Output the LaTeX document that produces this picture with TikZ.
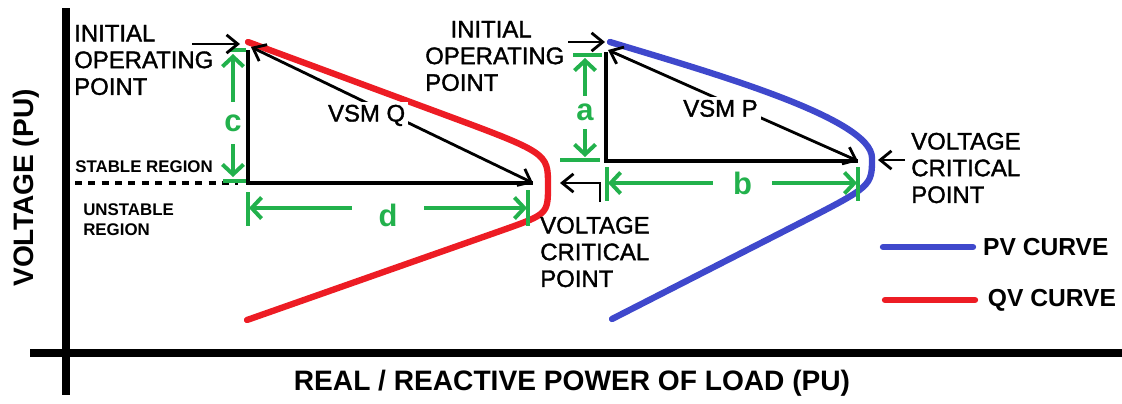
\documentclass[tikz,border=0pt]{standalone}
\usepackage{fontspec}
\setmainfont{Liberation Sans}
\newfontfamily\heavyfont{Liberation Sans}[FakeBold=1.5]
\usetikzlibrary{arrows.meta, positioning}
\definecolor{pvblue}{RGB}{63,72,204}
\definecolor{qvred}{RGB}{237,28,36}
\definecolor{dimgreen}{RGB}{34,177,76}

\begin{document}
\begin{tikzpicture}[
  x=0.025cm, y=-0.025cm,
  axisline/.style={line width=5pt},
  qvcurve/.style={draw=qvred, line width=4.5pt, line cap=round, line join=round},
  pvcurve/.style={draw=pvblue, line width=4.5pt, line cap=round, line join=round},
  side/.style={line width=2.2pt},
  sepline/.style={line width=2.6pt, dash pattern=on 5pt off 4.5pt},
  vsmarr/.style={{Straight Barb[length=8pt,width=13pt]}-{Straight Barb[length=8pt,width=13pt]}, line width=2pt},
  ptarr/.style={-{Straight Barb[length=8pt,width=13pt]}, line width=2pt},
  dimarr/.style={{Straight Barb[length=7pt,width=15pt]}-{Straight Barb[length=7pt,width=15pt]}, draw=dimgreen, line width=2.8pt},
  dimtick/.style={draw=dimgreen, line width=2.8pt},
  dimlbl/.style={fill=white, text=dimgreen, font=\fontsize{22}{24}\selectfont\bfseries, inner sep=3pt},
  lbl/.style={font=\fontsize{17}{19}\selectfont\heavyfont, align=left, inner sep=0pt, anchor=west},
  vsmlbl/.style={font=\fontsize{17}{19}\selectfont\heavyfont, fill=white, inner sep=2pt},
  regionlbl/.style={font=\fontsize{12}{14}\selectfont\bfseries, align=left, inner sep=0pt, anchor=west},
  axislbl/.style={font=\fontsize{20}{22}\selectfont\bfseries, inner sep=0pt},
  keylbl/.style={font=\fontsize{17.5}{20}\selectfont\bfseries, inner sep=0pt},
]
\useasboundingbox (0,0) rectangle (1122,403);

% axes
\coordinate (xstart) at (30,353);
\coordinate (xend)   at (1122,353);
\coordinate (ytop)   at (66,8);
\coordinate (ybot)   at (66,395);
\draw[axisline] (xstart) -- (xend);
\draw[axisline] (ytop) -- (ybot);
\node[axislbl] (xlabel) at (572,383) {REAL / REACTIVE POWER OF LOAD (PU)};
\node[axislbl, rotate=90] (ylabel) at (26,188) {VOLTAGE (PU)};

% QV side
\coordinate (qvtop)    at (248,42);
\coordinate (qvnose)   at (548,185);
\coordinate (qvbottom) at (247,320);
\coordinate (qvinit)   at (248,50);
\coordinate (qvtip)    at (251,47);
\coordinate (qvcorner) at (248,183);
\coordinate (qvcrit)   at (533,183);
\coordinate (dashstart) at (75,183);
\coordinate (dashend)   at (238,183);

\draw[qvcurve] (qvtop) -- (440,113) .. controls (548,153) .. (qvnose)
  .. controls (548,214) .. (503,230) -- (qvbottom);
\draw[side] (qvinit) -- (qvcorner) -- (qvcrit);
\draw[vsmarr] (qvcrit) -- node[vsmlbl, pos=0.59, yshift=-9pt] (vsmq) {VSM Q} (qvtip);
\draw[sepline] (dashstart) -- (dashend);

\node[regionlbl] (stable) at (75,167) {STABLE REGION};
\node[regionlbl] (unstable) at (83,220) {UNSTABLE\\ REGION};

% c and d
\coordinate (ctop)  at (233,54);
\coordinate (cbot)  at (233,177);
\draw[dimtick] (230,50) -- (246,50);
\draw[dimtick] (223,181) -- (246,181);
\draw[dimarr] (ctop) -- node[dimlbl, pos=0.56, inner ysep=9pt] (clbl) {c} (cbot);

\coordinate (dleft)  at (249,208);
\coordinate (dright) at (527,208);
\draw[dimtick] (248,192) -- (248,226);
\draw[dimtick] (528,190) -- (528,226);
\draw[dimarr] (dleft) -- node[dimlbl, pos=0.5, yshift=-5.5pt, inner xsep=19pt] (dlbl) {d} (dright);

\node[lbl] (qvinitlbl) at (74,60) {INITIAL\\OPERATING\\POINT};
\coordinate (qvptr) at (192,44);
\draw[ptarr] (qvptr) -- (240,44);

\node[lbl] (qvcritlbl) at (540,252) {VOLTAGE\\CRITICAL\\POINT};
\coordinate (qvbar) at (600,202);
\coordinate (qvptrtip) at (560,183);
\draw[ptarr] (qvbar) |- (qvptrtip);

% PV side
\coordinate (pvtop)    at (610,42);
\coordinate (pvnose)   at (872,158);
\coordinate (pvbottom) at (612,319);
\coordinate (pvinit)   at (606,52);
\coordinate (pvtip)    at (608,50);
\coordinate (pvcorner) at (606,161);
\coordinate (pvcrit)   at (858,161);

\draw[pvcurve] (pvtop) .. controls (709,72) and (872,118) .. (pvnose)
  .. controls (872,186) .. (800,223) -- (pvbottom);
\draw[side] (pvinit) -- (pvcorner) -- (pvcrit);
\draw[vsmarr] (pvcrit) -- node[vsmlbl, pos=0.55, yshift=-6pt] (vsmp) {VSM P} (pvtip);

% a and b
\coordinate (atop) at (585,58);
\coordinate (abot) at (585,157);
\draw[dimtick] (573,55) -- (602,55);
\draw[dimtick] (560,160) -- (600,160);
\draw[dimarr] (atop) -- node[dimlbl, pos=0.55, inner ysep=6pt] (albl) {a} (abot);

\coordinate (bleft)  at (608,183);
\coordinate (bright) at (857,183);
\draw[dimtick] (607,167) -- (607,201);
\draw[dimtick] (858,167) -- (858,201);
\draw[dimarr] (bleft) -- node[dimlbl, pos=0.54, inner xsep=14pt] (blbl) {b} (bright);

\node[lbl] (pvinitlbl) at (425,56) {\hspace*{18pt}INITIAL\\OPERATING\\POINT};
\coordinate (pvptr) at (568,42);
\draw[ptarr] (pvptr) -- (605,42);

\node[lbl] (pvcritlbl) at (911,168) {VOLTAGE\\CRITICAL\\POINT};
\coordinate (pvptrstart) at (905,160);
\draw[ptarr] (pvptrstart) -- (878,160);

% legend
\coordinate (pvkeya) at (883,247);
\coordinate (pvkeyb) at (973,247);
\coordinate (qvkeya) at (885,300);
\coordinate (qvkeyb) at (975,300);
\draw[pvcurve] (pvkeya) -- (pvkeyb);
\draw[qvcurve] (qvkeya) -- (qvkeyb);
\node[keylbl, right=7pt of pvkeyb] (pvkey) {PV CURVE};
\node[keylbl, right=9pt of qvkeyb] (qvkey) {QV CURVE};
\end{tikzpicture}
\end{document}
